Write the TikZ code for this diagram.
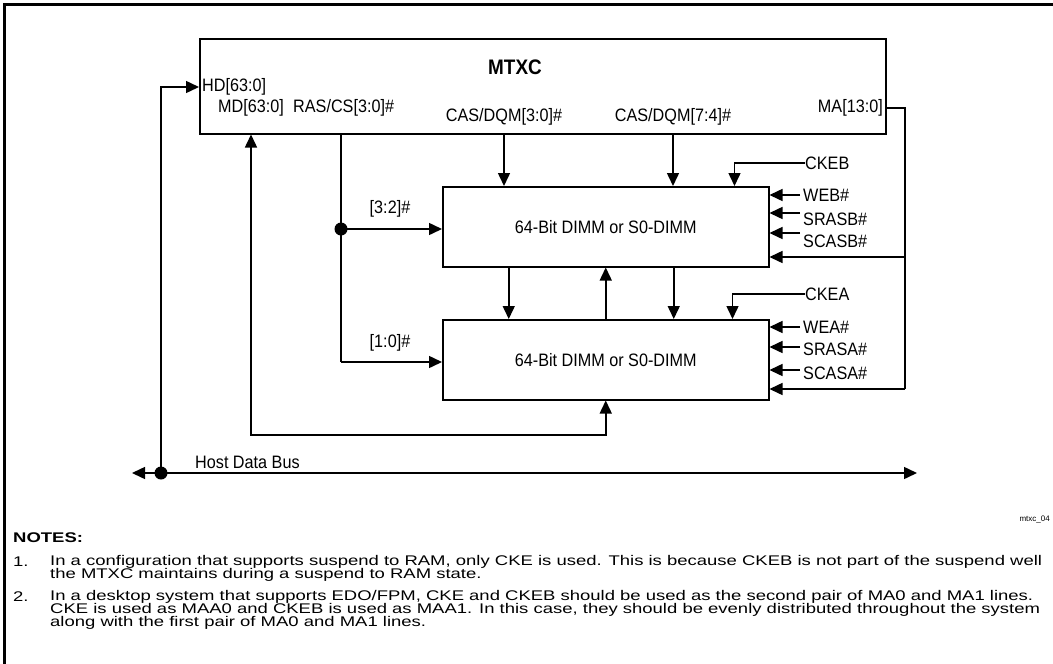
\documentclass[tikz,border=0pt]{standalone}
\usepackage{fontspec}
\setmainfont{Liberation Sans}
\newfontfamily\notefont[FakeStretch=1.32]{Liberation Sans}
\newfontfamily\pinfont[FakeStretch=0.9]{Liberation Sans}
\usetikzlibrary{arrows.meta,positioning}

\tikzset{
	tip/.style={-{Triangle[length=13pt,width=12pt]}},
	sig/.style={tip, line width=1.5pt},
	bisig/.style={{Triangle[length=13pt,width=12pt]}-{Triangle[length=13pt,width=12pt]}, line width=1.5pt},
	blk/.style={draw, line width=1.5pt, inner sep=0pt, anchor=north west},
	lbl/.style={font=\pinfont\fontsize{18}{18}\selectfont, inner sep=0pt},
	note/.style={font=\notefont\fontsize{14}{14}\selectfont, inner sep=0pt, anchor=west},
}

\begin{document}
\begin{tikzpicture}[x=1pt,y=-1pt]
	\useasboundingbox (0,0) rectangle (1053,664);
	
	% frame
	\draw[line width=3pt] (4,664) -- (4,4) -- (1053,4);
	
	% blocks
	\node[blk, minimum width=686pt, minimum height=95pt] (mtxc) at (199,38) {};
	\node[blk, minimum width=326pt, minimum height=80pt] (dimmB) at (442,186) {};
	\node[blk, minimum width=326pt, minimum height=80pt] (dimmA) at (442,319) {};
	\node[lbl] at (dimmB.center) {64-Bit DIMM or S0-DIMM};
	\node[lbl] at (dimmA.center) {64-Bit DIMM or S0-DIMM};
	\node[font=\pinfont\bfseries\fontsize{21}{21}\selectfont, inner sep=0pt] at (515,67) {MTXC};
	
	% MTXC pins
	\node[lbl, anchor=west] (hd) at (202,87) {HD[63:0]};
	\node[lbl, anchor=west] (md) at (218,108) {MD[63:0]};
	\node[lbl, anchor=west] (ras) at (293,108) {RAS/CS[3:0]\#};
	\node[lbl] (casA) at (504,117) {CAS/DQM[3:0]\#};
	\node[lbl] (casB) at (673,117) {CAS/DQM[7:4]\#};
	\node[lbl, anchor=east] (ma) at (883,108) {MA[13:0]};
	
	% host data bus
	\coordinate (hdj) at (161,473);
	\coordinate (busL) at (132,473);
	\coordinate (busR) at (917,473);
	\draw[sig] (hdj) |- (mtxc.west |- hd.west);
	\draw[bisig] (busL) -- (busR);
	\fill (hdj) circle (6.5);
	\node[lbl, anchor=west] at (195,462) {Host Data Bus};
	
	% memory data
	\coordinate (mdbot) at (251,435);
	\draw[bisig] (mtxc.south -| mdbot) -- (mdbot) -| (dimmA.south);
	
	% row select
	\coordinate (rasdot) at (341,229);
	\coordinate (rasbot) at (341,362);
	\draw[line width=1.5pt] (mtxc.south -| rasbot) -- (rasbot);
	\draw[sig] (rasdot) -- (dimmB.west |- rasdot);
	\draw[sig] (rasbot) -- (dimmA.west |- rasbot);
	\fill (rasdot) circle (6.5);
	\node[lbl] at (390,209) {[3:2]\#};
	\node[lbl] at (390,343) {[1:0]\#};
	
	% column select
	\draw[sig] (mtxc.south -| casA) -- (dimmB.north -| casA);
	\draw[sig] (mtxc.south -| casB) -- (dimmB.north -| casB);
	
	% between the DIMMs
	\draw[sig] ([xshift=-97pt]dimmB.south) -- ([xshift=-97pt]dimmA.north);
	\draw[sig] (dimmA.north) -- (dimmB.south);
	\draw[sig] ([xshift=68pt]dimmB.south) -- ([xshift=68pt]dimmA.north);
	
	% clock enables
	\node[lbl, anchor=west] (ckeb) at (805,163) {CKEB};
	\node[lbl, anchor=west] (ckea) at (805,294) {CKEA};
	\draw[sig] (ckeb.west) -| ([xshift=-35pt]dimmB.north east);
	\draw[sig] (ckea.west) -| ([xshift=-37pt]dimmA.north east);
	
	% control inputs
	\foreach \nm/\ay/\ty [count=\i] in {WEB\#/195/195, SRASB\#/213/219, SCASB\#/233/241}{
		\coordinate (b\i) at (800,\ay);
		\node[lbl, anchor=west] at (803,\ty) {\nm};
		\draw[sig] (b\i) -- (dimmB.east |- b\i);
	}
	\foreach \nm/\ay/\ty [count=\i] in {WEA\#/327/327, SRASA\#/347/349, SCASA\#/370/373}{
		\coordinate (a\i) at (800,\ay);
		\node[lbl, anchor=west] at (803,\ty) {\nm};
		\draw[sig] (a\i) -- (dimmA.east |- a\i);
	}
	
	% memory address
	\coordinate (maturn) at (905,108);
	\coordinate (mamid) at (905,257);
	\coordinate (mabot) at (905,389);
	\draw[line width=1.5pt] (mtxc.east |- ma) -- (maturn) -- (mabot);
	\draw[sig] (mamid) -- (dimmB.east |- mamid);
	\draw[sig] (mabot) -- (dimmA.east |- mabot);
	
	\node[font=\fontsize{8}{8}\selectfont, inner sep=0pt, anchor=east] at (1050,519) {mtxc\_04};
	
	% notes
	\node[font=\notefont\bfseries\fontsize{14}{14}\selectfont, inner sep=0pt, anchor=west] at (13,538) {NOTES:};
	\node[note] at (13,562) {1.};
	\node[note] at (50,562) {In a configuration that supports suspend to RAM, only CKE is used. This is because CKEB is not part of the suspend well};
	\node[note] at (50,575) {the MTXC maintains during a suspend to RAM state.};
	\node[note] at (13,597) {2.};
	\node[note] at (50,597) {In a desktop system that supports EDO/FPM, CKE and CKEB should be used as the second pair of MA0 and MA1 lines.};
	\node[note] at (50,610) {CKE is used as MAA0 and CKEB is used as MAA1. In this case, they should be evenly distributed throughout the system};
	\node[note] at (50,623) {along with the first pair of MA0 and MA1 lines.};
	
\end{tikzpicture}
\end{document}
